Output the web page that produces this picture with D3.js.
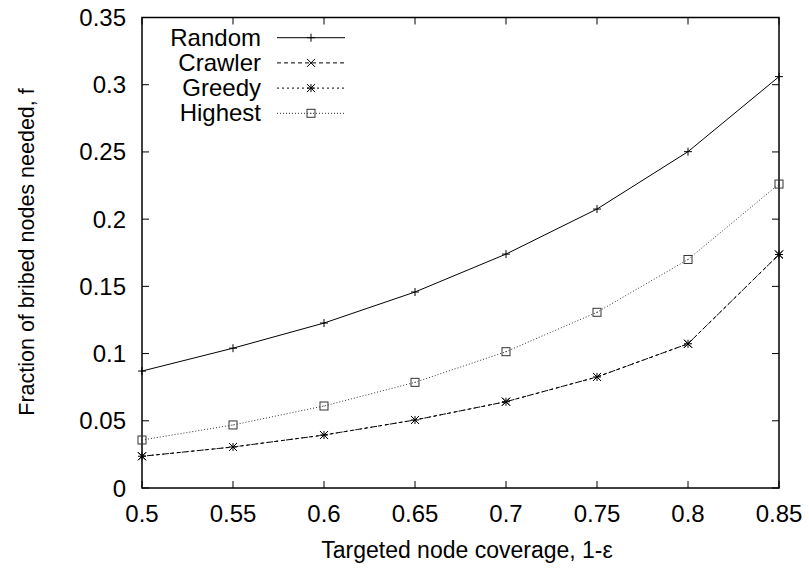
<!DOCTYPE html>
<html>
<head>
<meta charset="utf-8">
<script src="https://cdn.jsdelivr.net/npm/d3@7"></script>
<style>
  body { margin: 0; background: #fff; }
  svg text { font-family: "Liberation Sans", Arial, sans-serif; fill: #000; }
</style>
</head>
<body>
<svg id="chart" width="809" height="568"></svg>
<script>

// Data
const coverage = [0.5, 0.55, 0.6, 0.65, 0.7, 0.75, 0.8, 0.85];
const randomVals  = [0.087, 0.104, 0.1227, 0.1458, 0.174, 0.2075, 0.2502, 0.306];
const crawlerVals = [0.0236, 0.0305, 0.0394, 0.0506, 0.0642, 0.0826, 0.1073, 0.1737];
const greedyVals  = [0.0236, 0.0305, 0.0394, 0.0506, 0.0642, 0.0826, 0.1073, 0.1737];
const highestVals = [0.0357, 0.0469, 0.061, 0.0786, 0.1014, 0.1307, 0.170, 0.2261];
const xTicks = [0.5, 0.55, 0.6, 0.65, 0.7, 0.75, 0.8, 0.85];
const yTicks = [0, 0.05, 0.1, 0.15, 0.2, 0.25, 0.3, 0.35];

const series = [
    { name: "Random",  values: randomVals,  dash: null,  marker: "plus",   colour: "#000" },
    { name: "Crawler", values: crawlerVals, dash: "4,3", marker: "cross",  colour: "#000" },
    { name: "Greedy",  values: greedyVals,  dash: "2,3", marker: "star",   colour: "#000" },
    { name: "Highest", values: highestVals, dash: "1,2", marker: "square", colour: "#333" }
];

// Layout
const plotLeft = 142, plotRight = 779, plotTop = 17.5, plotBottom = 488;
const svg = d3.select("#chart");

const x = d3.scaleLinear().domain([0.5, 0.85]).range([plotLeft, plotRight]);
const y = d3.scaleLinear().domain([0, 0.35]).range([plotBottom, plotTop]);

// Ticks (inward, mirrored)
const tickLen = 7;
const axisG = svg.append("g").attr("stroke", "#000").attr("stroke-width", 1);
xTicks.forEach((t) => {
    axisG.append("line").attr("x1", x(t)).attr("x2", x(t)).attr("y1", plotBottom).attr("y2", plotBottom - tickLen);
    axisG.append("line").attr("x1", x(t)).attr("x2", x(t)).attr("y1", plotTop).attr("y2", plotTop + tickLen);
});
yTicks.forEach((t) => {
    axisG.append("line").attr("x1", plotLeft).attr("x2", plotLeft + tickLen).attr("y1", y(t)).attr("y2", y(t));
    axisG.append("line").attr("x1", plotRight).attr("x2", plotRight - tickLen).attr("y1", y(t)).attr("y2", y(t));
});

// Tick labels
svg.append("g").selectAll("text")
    .data(xTicks)
    .enter()
    .append("text")
    .attr("x", (d) => x(d))
    .attr("y", 522)
    .attr("text-anchor", "middle")
    .style("font-size", "24px")
    .text((d) => d3.format("")(d));

svg.append("g").selectAll("text")
    .data(yTicks)
    .enter()
    .append("text")
    .attr("x", 126)
    .attr("y", (d) => y(d) + 8.5)
    .attr("text-anchor", "end")
    .style("font-size", "24px")
    .text((d) => d3.format("")(d));

// Frame
svg.append("rect")
    .attr("x", plotLeft).attr("y", plotTop)
    .attr("width", plotRight - plotLeft).attr("height", plotBottom - plotTop)
    .attr("fill", "none").attr("stroke", "#000").attr("stroke-width", 1.5);

// Axis titles
svg.append("text")
    .attr("x", 467).attr("y", 558)
    .attr("text-anchor", "middle")
    .style("font-size", "23px")
    .text("Targeted node coverage, 1-\u03b5");

svg.append("text")
    .attr("transform", "translate(34,252) rotate(-90)")
    .attr("text-anchor", "middle")
    .style("font-size", "21.5px")
    .text("Fraction of bribed nodes needed, f");

// Marker drawing
function drawMarker(g, type, cx, cy, colour) {
    const s = 4;
    const m = g.append("g").attr("stroke", colour).attr("stroke-width", 1).attr("fill", "none");
    if (type === "plus" || type === "star") {
        m.append("line").attr("x1", cx - s).attr("x2", cx + s).attr("y1", cy).attr("y2", cy);
        m.append("line").attr("x1", cx).attr("x2", cx).attr("y1", cy - s).attr("y2", cy + s);
    }
    if (type === "cross" || type === "star") {
        m.append("line").attr("x1", cx - s).attr("x2", cx + s).attr("y1", cy - s).attr("y2", cy + s);
        m.append("line").attr("x1", cx - s).attr("x2", cx + s).attr("y1", cy + s).attr("y2", cy - s);
    }
    if (type === "square") {
        m.append("rect").attr("x", cx - s).attr("y", cy - s).attr("width", 2 * s).attr("height", 2 * s);
        m.append("rect").attr("x", cx - 0.5).attr("y", cy - 0.5).attr("width", 1).attr("height", 1)
            .attr("fill", colour).attr("stroke", "none");
    }
}

// Lines and points
const line = d3.line()
    .x((d, i) => x(coverage[i]))
    .y((d) => y(d));

series.forEach((s) => {
    const g = svg.append("g");
    g.append("path")
        .datum(s.values)
        .attr("d", line)
        .attr("fill", "none")
        .attr("stroke", s.colour)
        .attr("stroke-width", 1)
        .attr("stroke-dasharray", s.dash);
    s.values.forEach((v, i) => drawMarker(g, s.marker, x(coverage[i]), y(v), s.colour));
});

// Legend
const legend = svg.append("g");
series.forEach((s, i) => {
    const ly = 37.7 + i * 25.2;
    legend.append("text")
        .attr("x", 261).attr("y", ly + 8)
        .attr("text-anchor", "end")
        .style("font-size", "24px")
        .text(s.name);
    legend.append("line")
        .attr("x1", 277).attr("x2", 345).attr("y1", ly).attr("y2", ly)
        .attr("stroke", s.colour).attr("stroke-width", 1)
        .attr("stroke-dasharray", s.dash);
    drawMarker(legend, s.marker, 311, ly, s.colour);
});

</script>
</body>
</html>
